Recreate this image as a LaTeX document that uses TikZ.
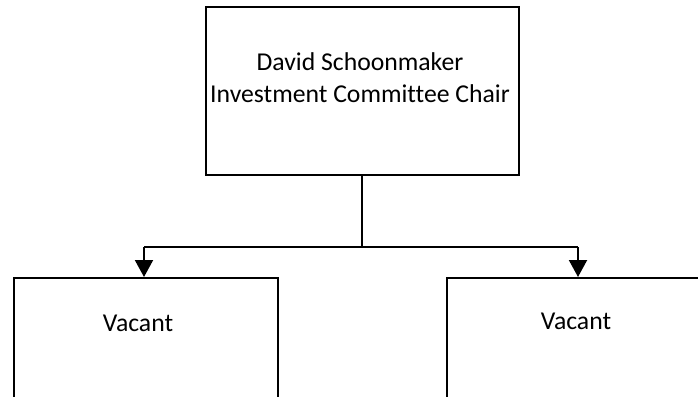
\documentclass[tikz,border=0pt]{standalone}
\usepackage{fontspec}
\setmainfont{Carlito}[Ligatures=NoCommon]
\usetikzlibrary{arrows.meta}
\begin{document}
\begin{tikzpicture}[x=1pt,y=-1pt,
  box/.style={draw=black,line width=2pt,fill=white,inner sep=0pt},
  lbl/.style={font=\fontsize{25.7}{32}\selectfont,align=center,inner sep=0pt},
  conn/.style={line width=2pt},
  arr/.style={line width=2pt,-{Triangle[width=18pt,length=17pt]}}]
\useasboundingbox (0,0) rectangle (698,396);
\clip (0,0) rectangle (698,396);
\node[box,minimum width=313pt,minimum height=167pt] (top) at (362,91) {};
\node[lbl] (toptext) at (360,78) {David Schoonmaker\\Investment Committee Chair};
\node[box,minimum width=264pt,minimum height=160pt,anchor=north west] (left) at (13,277) {};
\node[box,minimum width=264pt,minimum height=160pt,anchor=north west] (right) at (446,277) {};
\node[lbl] (lefttext) at (138,323) {Vacant};
\node[lbl] (righttext) at (576,321) {Vacant};
\coordinate (jl) at (144,247);
\coordinate (jr) at (578,247);
\coordinate (j) at (top.south |- jl);
\draw[conn] (top.south) -- (j);
\draw[conn] (jl) -- (jr);
\draw[arr] (jl) -- (jl |- left.north);
\draw[arr] (jr) -- (jr |- right.north);
\end{tikzpicture}
\end{document}
